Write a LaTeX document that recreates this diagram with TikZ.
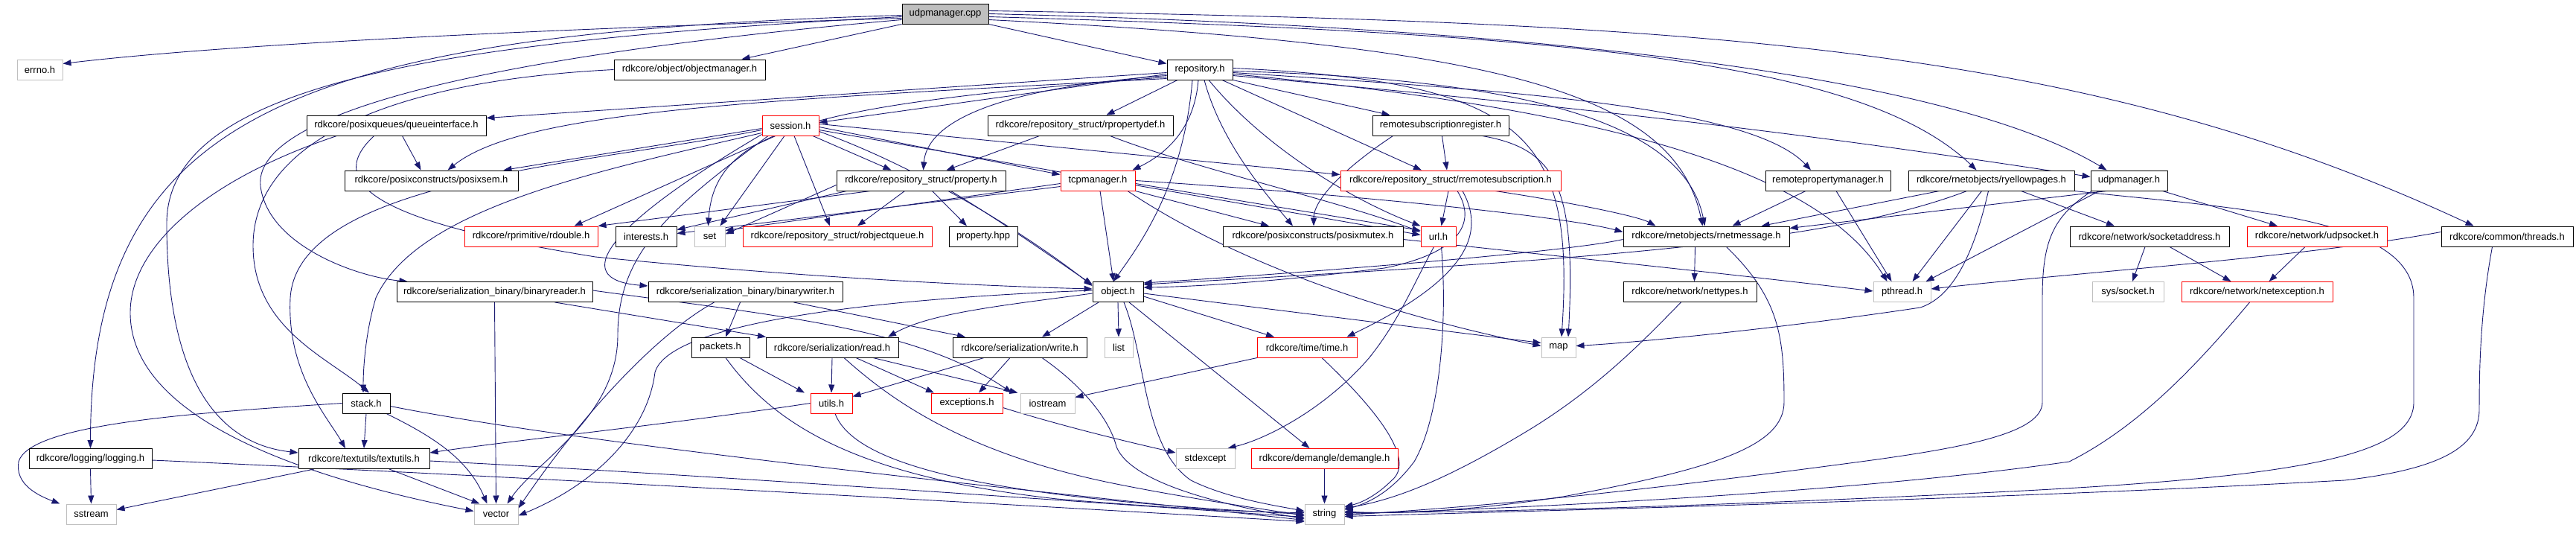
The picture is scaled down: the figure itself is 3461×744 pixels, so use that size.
\documentclass[tikz,border=0pt]{standalone}
\usepackage{fontspec}
\setmainfont{Liberation Sans}
\usetikzlibrary{arrows.meta}
\definecolor{edgec}{HTML}{191970}
\definecolor{grayb}{HTML}{BFBFBF}
\pgfdeclarelayer{bg}
\pgfsetlayers{bg,main}
\tikzset{
 nd/.style={draw=black, line width=1pt, fill=white, inner sep=0pt, minimum height=27pt, font=\fontsize{13}{15}\selectfont},
 rednd/.style={nd, draw=red},
 graynd/.style={nd, draw=grayb},
 rootnd/.style={nd, fill=grayb},
 edg/.style={draw=edgec, line width=0.9pt, -{Triangle[length=11pt,width=8pt]}},
}
\begin{document}
\begin{tikzpicture}[x=1pt,y=-1pt]
\useasboundingbox (0,0) rectangle (3461,744);
% row 1
\node[rootnd, minimum width=116pt] (udpcpp) at (1270,18.5) {udpmanager.cpp};
% row 2
\node[graynd, minimum width=61pt] (errno) at (53.5,93.5) {errno.h};
\node[nd, minimum width=203pt] (objmgr) at (926.5,93.5) {rdkcore/object/objectmanager.h};
\node[nd, minimum width=88pt] (repo) at (1612,93.5) {repository.h};
% row 3
\node[nd, minimum width=241pt] (queue) at (532.5,168.5) {rdkcore/posixqueues/queueinterface.h};
\node[rednd, minimum width=76pt] (session) at (1062,168.5) {session.h};
\node[nd, minimum width=249pt] (rpropdef) at (1451.5,168.5) {rdkcore/repository\_struct/rpropertydef.h};
\node[nd, minimum width=183pt] (rsubreg) at (1935.5,168.5) {remotesubscriptionregister.h};
% row 4
\node[nd, minimum width=233pt] (posixsem) at (579.5,242.5) {rdkcore/posixconstructs/posixsem.h};
\node[nd, minimum width=227pt] (property) at (1237.5,242.5) {rdkcore/repository\_struct/property.h};
\node[rednd, minimum width=100pt] (tcp) at (1475,242.5) {tcpmanager.h};
\node[rednd, minimum width=296pt] (rremsub) at (1949,242.5) {rdkcore/repository\_struct/rremotesubscription.h};
\node[nd, minimum width=168pt] (rpropmgr) at (2456,242.5) {remotepropertymanager.h};
\node[nd, minimum width=223pt] (yellow) at (2675.5,242.5) {rdkcore/rnetobjects/ryellowpages.h};
\node[nd, minimum width=103pt] (udph) at (2860.5,242.5) {udpmanager.h};
% row 5
\node[rednd, minimum width=179pt] (rdouble) at (713.5,317.5) {rdkcore/rprimitive/rdouble.h};
\node[nd, minimum width=82pt] (interests) at (868,317.5) {interests.h};
\node[graynd, minimum width=41pt] (set) at (953.5,317.5) {set};
\node[rednd, minimum width=254pt] (robjq) at (1125,317.5) {rdkcore/repository\_struct/robjectqueue.h};
\node[nd, minimum width=92pt] (prophpp) at (1321,317.5) {property.hpp};
\node[nd, minimum width=242pt] (posixmutex) at (1764,317.5) {rdkcore/posixconstructs/posixmutex.h};
\node[rednd, minimum width=47pt] (url) at (1932.5,317.5) {url.h};
\node[nd, minimum width=223pt] (rnetmsg) at (2292.5,317.5) {rdkcore/rnetobjects/rnetmessage.h};
\node[nd, minimum width=214pt] (sockaddr) at (2888,317.5) {rdkcore/network/socketaddress.h};
\node[rednd, minimum width=188pt] (udpsock) at (3113,317.5) {rdkcore/network/udpsocket.h};
\node[nd, minimum width=177pt] (threads) at (3368.5,317.5) {rdkcore/common/threads.h};
% row 6
\node[nd, minimum width=263pt] (binreader) at (664.5,392) {rdkcore/serialization\_binary/binaryreader.h};
\node[nd, minimum width=261pt] (binwriter) at (1001.5,392) {rdkcore/serialization\_binary/binarywriter.h};
\node[nd, minimum width=68pt] (objecth) at (1502,392) {object.h};
\node[nd, minimum width=179pt] (nettypes) at (2270.5,392) {rdkcore/network/nettypes.h};
\node[graynd, minimum width=77pt] (pthread) at (2555.5,392) {pthread.h};
\node[graynd, minimum width=96pt] (syssock) at (2859,392) {sys/socket.h};
\node[rednd, minimum width=203pt] (netexc) at (3032.5,392) {rdkcore/network/netexception.h};
% row 7
\node[nd, minimum width=78pt] (packets) at (968,466.5) {packets.h};
\node[nd, minimum width=178pt] (read) at (1118,466.5) {rdkcore/serialization/read.h};
\node[nd, minimum width=180pt] (write) at (1370,466.5) {rdkcore/serialization/write.h};
\node[graynd, minimum width=38pt] (list) at (1503,466.5) {list};
\node[rednd, minimum width=134pt] (time) at (1756,466.5) {rdkcore/time/time.h};
\node[graynd, minimum width=46pt] (map) at (2094,466.5) {map};
% row 8
\node[nd, minimum width=64pt] (stack) at (492,541.5) {stack.h};
\node[rednd, minimum width=56pt] (utils) at (1117,541.5) {utils.h};
\node[rednd, minimum width=96pt] (exceptions) at (1299,541.5) {exceptions.h};
\node[graynd, minimum width=73pt] (iostream) at (1407.5,541.5) {iostream};
% row 9
\node[nd, minimum width=165pt] (logging) at (121.5,616) {rdkcore/logging/logging.h};
\node[nd, minimum width=176pt] (textutils) at (489,616) {rdkcore/textutils/textutils.h};
\node[graynd, minimum width=79pt] (stdexcept) at (1619.5,616) {stdexcept};
\node[rednd, minimum width=197pt] (demangle) at (1779.5,616) {rdkcore/demangle/demangle.h};
% row 10
\node[graynd, minimum width=67pt] (sstream) at (122.5,690.5) {sstream};
\node[graynd, minimum width=59pt] (vector) at (666.5,690.5) {vector};
\node[graynd, minimum width=53pt] (string) at (1779.5,690.5) {string};

\begin{pgfonlayer}{bg}
% udpmanager.cpp
\draw[edg] ([yshift=-6pt]udpcpp.west) .. controls (700,40) and (300,60) .. ([yshift=8pt]errno.east);
\draw[edg] (udpcpp.south west) -- ([xshift=70pt]objmgr.north);
\draw[edg] (udpcpp.south east) -- ([yshift=8pt]repo.west);
\draw[edg] ([yshift=-2pt]udpcpp.west) .. controls (400,45) and (122,150) .. (logging.north);
\draw[edg] ([yshift=-4pt]udpcpp.west) .. controls (600,55) and (224,110) .. (224,300) .. controls (224,560) and (330,600) .. ([yshift=8pt]textutils.west);
\draw[edg] ([yshift=-8pt]udpcpp.west) .. controls (600,80) and (340,160) .. (350,250) .. controls (360,330) and (480,372) .. ([xshift=15pt]binreader.north west);
\draw[edg] ([yshift=4pt]udpcpp.east) .. controls (2300,30) and (2800,60) .. ([xshift=-45pt]threads.north);
\draw[edg] (udpcpp.east) .. controls (2200,40) and (2650,120) .. ([xshift=-30pt]udph.north);
\draw[edg] ([yshift=-4pt]udpcpp.east) .. controls (2100,45) and (2500,80) .. ([xshift=-20pt]yellow.north);
\draw[edg] ([yshift=-8pt]udpcpp.east) .. controls (2000,60) and (2250,120) .. ([xshift=-5pt]rnetmsg.north);
% repository.h
\draw[edg] ([yshift=-4pt]repo.west) -- ([yshift=10pt]queue.east);
\draw[edg] ([yshift=-6pt]repo.west) -- ([yshift=4pt]session.east);
\draw[edg] ([xshift=-30pt]repo.south) -- ([xshift=35pt]rpropdef.north);
\draw[edg] (repo.south east) -- ([xshift=-68pt]rsubreg.north);
\draw[edg] ([yshift=-8pt]repo.west) .. controls (1320,120) and (1245,170) .. ([xshift=3pt]property.north);
\draw[edg] ([xshift=-2pt]repo.south) .. controls (1605,170) and (1570,205) .. ([xshift=-4pt]tcp.north east);
\draw[edg] ([xshift=30pt]repo.south) -- ([xshift=-39pt]rremsub.north);
\draw[edg] ([xshift=6pt]repo.south) .. controls (1640,190) and (1700,260) .. ([xshift=-27pt]posixmutex.north);
\draw[edg] ([xshift=12pt]repo.south) .. controls (1700,200) and (1820,270) .. (url.north west);
\draw[edg] ([yshift=-4pt]repo.east) .. controls (2000,120) and (2350,140) .. ([xshift=-23pt]rpropmgr.north);
\draw[edg] ([yshift=-2pt]repo.east) .. controls (2000,105) and (2260,150) .. ([xshift=-2pt]rnetmsg.north);
\draw[edg] ([yshift=2pt]repo.east) .. controls (2050,110) and (2116,180) .. ([xshift=4pt]map.north);
\draw[edg] ([yshift=-6pt]repo.east) .. controls (2200,150) and (2450,240) .. ([xshift=-20pt]pthread.north);
\draw[edg] ([yshift=-8pt]repo.east) .. controls (2200,150) and (2500,190) .. ([yshift=5pt]udph.west);
\draw[edg] ([yshift=-10pt]repo.west) .. controls (1100,140) and (960,170) .. ([xshift=-2pt]set.north);
\draw[edg] ([yshift=-12pt]repo.west) .. controls (1000,135) and (700,150) .. ([xshift=22pt]posixsem.north);
\draw[edg] ([xshift=-10pt]repo.south) .. controls (1590,250) and (1530,330) .. ([xshift=-6pt]objecth.north);
% objectmanager.h
\draw[edg] (objmgr.west) .. controls (500,110) and (340,200) .. (340,330) .. controls (340,440) and (440,480) .. ([xshift=4pt]stack.north);
% queueinterface.h
\draw[edg] ([xshift=8pt]queue.south) -- ([xshift=-14pt]posixsem.north);
\draw[edg] ([xshift=-80pt]queue.south) .. controls (280,240) and (175,330) .. (175,420) .. controls (175,560) and (400,640) .. ([yshift=4pt]vector.west);
\draw[edg] ([xshift=-30pt]queue.south) .. controls (430,250) and (520,300) .. (800,345) .. controls (1100,375) and (1350,385) .. ([yshift=4pt]objecth.west);
% session.h
\draw[edg] ([yshift=-4pt]session.west) -- ([xshift=-20pt]posixsem.north east);
\draw[edg] ([xshift=30pt]session.south) -- ([xshift=-40pt]property.north);
\draw[edg] ([yshift=-2pt]session.east) -- ([yshift=8pt]tcp.west);
\draw[edg] ([yshift=2pt]session.east) -- ([yshift=8pt]rremsub.west);
\draw[edg] ([xshift=-20pt]session.south) -- ([xshift=58pt]rdouble.north);
\draw[edg] ([xshift=-8pt]session.south) -- ([xshift=14pt]set.north);
\draw[edg] ([xshift=5pt]session.south) -- ([xshift=-10pt]robjq.north);
\draw[edg] ([yshift=-6pt]session.east) -- ([yshift=2pt]url.west);
\draw[edg] ([yshift=-8pt]session.east) .. controls (1250,230) and (1400,330) .. ([yshift=8pt]objecth.west);
\draw[edg] ([yshift=-10pt]session.west) .. controls (800,230) and (560,280) .. (505,400) .. controls (490,450) and (488,500) .. ([xshift=-4pt]stack.north);
\draw[edg] ([yshift=-6pt]session.west) .. controls (800,220) and (400,240) .. (390,400) .. controls (385,500) and (440,560) .. ([xshift=-25pt]textutils.north);
\draw[edg] ([yshift=-12pt]session.west) .. controls (820,300) and (760,375) .. ([yshift=8pt]binwriter.west);
\draw[edg] ([xshift=-30pt]session.south) .. controls (900,280) and (830,340) .. (830,450) .. controls (830,560) and (720,620) .. ([xshift=-15pt]vector.north east);
% rpropertydef.h
\draw[edg] ([xshift=-55pt]rpropdef.south) -- ([xshift=34pt]property.north);
\draw[edg] ([xshift=40pt]rpropdef.south) .. controls (1600,225) and (1800,270) .. ([yshift=6pt]url.west);
% remotesubscriptionregister.h
\draw[edg] ([xshift=2pt]rsubreg.south) -- ([xshift=-5pt]rremsub.north);
\draw[edg] ([xshift=-64pt]rsubreg.south) .. controls (1800,230) and (1765,270) .. ([xshift=1pt]posixmutex.north);
\draw[edg] ([xshift=56pt]rsubreg.south) .. controls (2090,200) and (2118,250) .. ([xshift=13pt]map.north);
% property.h
\draw[edg] ([xshift=-22pt]property.south) -- ([xshift=27pt]robjq.north);
\draw[edg] ([xshift=15pt]property.south) -- ([xshift=-22pt]prophpp.north);
\draw[edg] ([xshift=-68pt]property.south) -- (rdouble.north east);
\draw[edg] ([xshift=-100pt]property.south) -- ([yshift=9pt]interests.east);
\draw[edg] ([yshift=-6pt]property.west) -- ([yshift=3pt]set.east);
\draw[edg] ([xshift=40pt]property.south) .. controls (1350,300) and (1420,350) .. ([yshift=10pt]objecth.west);
% tcpmanager.h
\draw[edg] ([xshift=3pt]tcp.south) -- ([xshift=-6pt]objecth.north);
\draw[edg] (tcp.south east) -- ([xshift=-59pt]posixmutex.north);
\draw[edg] ([yshift=-4pt]tcp.east) -- ([yshift=8pt]url.west);
\draw[edg] ([yshift=-4pt]tcp.west) -- ([yshift=8pt]set.east);
\draw[edg] ([yshift=-8pt]tcp.west) -- ([yshift=4pt]interests.east);
\draw[edg] (tcp.east) .. controls (1800,260) and (2100,290) .. ([yshift=6pt]rnetmsg.west);
\draw[edg] ([xshift=40pt]tcp.south) .. controls (1700,380) and (1950,440) .. ([yshift=2pt]map.west);
% rremotesubscription.h
\draw[edg] ([xshift=-3pt]rremsub.south) -- ([xshift=4pt]url.north);
\draw[edg] ([xshift=9pt]rremsub.south) .. controls (1985,300) and (1960,340) .. (1860,360) .. controls (1700,380) and (1600,385) .. ([yshift=6pt]objecth.east);
\draw[edg] ([xshift=16pt]rremsub.south) .. controls (2000,320) and (1960,380) .. ([xshift=-14pt]time.north east);
\draw[edg] ([xshift=60pt]rremsub.south) .. controls (2100,270) and (2200,290) .. ([xshift=-68pt]rnetmsg.north);
% remotepropertymanager.h
\draw[edg] ([xshift=-30pt]rpropmgr.south) -- ([xshift=35pt]rnetmsg.north);
\draw[edg] ([xshift=11pt]rpropmgr.south) -- ([xshift=-14pt]pthread.north);
% ryellowpages.h
\draw[edg] ([xshift=-70pt]yellow.south) -- ([xshift=74pt]rnetmsg.north);
\draw[edg] ([xshift=-33pt]yellow.south) .. controls (2450,330) and (2100,350) .. ([yshift=10pt]objecth.east);
\draw[edg] ([xshift=-13pt]yellow.south) -- ([xshift=14pt]pthread.north);
\draw[edg] ([xshift=-4pt]yellow.south) .. controls (2650,350) and (2620,400) .. (2580,413) .. controls (2400,440) and (2200,460) .. ([yshift=2pt]map.east);
\draw[edg] ([xshift=40pt]yellow.south) -- ([xshift=-47pt]sockaddr.north);
\draw[edg] (yellow.south east) .. controls (3000,280) and (3243,290) .. (3243,400) -- (3243,540) .. controls (3243,610) and (3100,640) .. (2700,660) .. controls (2300,680) and (2000,688) .. ([yshift=2pt]string.east);
% udpmanager.h
\draw[edg] ([xshift=-30pt]udph.south) -- ([yshift=-3pt]rnetmsg.north east);
\draw[edg] ([xshift=-40pt]udph.south) -- ([xshift=32pt]pthread.north);
\draw[edg] ([xshift=45pt]udph.south) -- ([xshift=-53pt]udpsock.north);
\draw[edg] ([xshift=-50pt]udph.south) .. controls (2760,290) and (2744,320) .. (2744,400) -- (2744,540) .. controls (2744,580) and (2650,600) .. (2500,620) .. controls (2200,660) and (2000,680) .. ([yshift=-1pt]string.east);
% socket / network
\draw[edg] ([xshift=-6pt]sockaddr.south) -- ([xshift=6pt]syssock.north);
\draw[edg] ([xshift=27pt]sockaddr.south) -- ([xshift=-35pt]netexc.north);
\draw[edg] ([xshift=-16pt]udpsock.south) -- ([xshift=16pt]netexc.north);
\draw[edg] ([yshift=6pt]threads.west) .. controls (3100,345) and (2800,365) .. ([yshift=4pt]pthread.east);
\draw[edg] ([xshift=-20pt]threads.south) .. controls (3332,420) and (3331,500) .. (3331,550) .. controls (3331,600) and (3280,630) .. (3150,645) .. controls (2700,670) and (2100,685) .. ([yshift=-3pt]string.east);
\draw[edg] ([xshift=-10pt]netexc.south) .. controls (2960,480) and (2880,570) .. (2780,620) .. controls (2500,660) and (2100,680) .. (string.east);
\draw[edg] ([yshift=-4pt]posixmutex.east) .. controls (2100,345) and (2300,365) .. ([yshift=1pt]pthread.west);
% url.h
\draw[edg] ([xshift=-6pt]url.south) .. controls (1900,380) and (1880,430) .. (1840,480) .. controls (1780,550) and (1700,590) .. ([xshift=-10pt]stdexcept.north east);
\draw[edg] ([xshift=4pt]url.south) .. controls (1945,430) and (1935,560) .. (1900,620) .. controls (1870,660) and (1840,675) .. ([yshift=6pt]string.east);
% rnetmessage.h
\draw[edg] ([xshift=-15pt]rnetmsg.south) -- ([xshift=6pt]nettypes.north);
\draw[edg] ([yshift=-4pt]rnetmsg.west) .. controls (2100,340) and (1700,370) .. ([yshift=12pt]objecth.east);
\draw[edg] ([xshift=27pt]rnetmsg.south) .. controls (2390,400) and (2397,450) .. (2397,540) .. controls (2397,600) and (2300,630) .. (2100,667) .. controls (1950,690) and (1850,690) .. ([yshift=4pt]string.east);
\draw[edg] ([xshift=-12pt]nettypes.south) .. controls (2215,450) and (2150,520) .. (2050,580) .. controls (1950,640) and (1880,670) .. ([yshift=8pt]string.east);
% object.h
\draw[edg] (objecth.south) -- (list.north);
\draw[edg] ([yshift=-6pt]objecth.east) -- ([xshift=-44pt]time.north);
\draw[edg] ([xshift=15pt]objecth.south) -- ([xshift=-20pt]demangle.north);
\draw[edg] ([yshift=-2pt]objecth.east) -- ([yshift=6pt]map.west);
\draw[edg] ([xshift=8pt]objecth.south) .. controls (1540,480) and (1535,600) .. (1600,645) .. controls (1650,670) and (1720,680) .. ([yshift=4pt]string.west);
\draw[edg] ([xshift=-26pt]objecth.south) -- ([xshift=30pt]write.north);
\draw[edg] ([yshift=-2pt]objecth.west) .. controls (1350,410) and (1250,420) .. ([xshift=75pt]read.north);
\draw[edg] ([yshift=2pt]objecth.west) .. controls (1200,400) and (900,430) .. (880,500) .. controls (870,580) and (800,650) .. ([yshift=-2pt]vector.east);
% binaryreader / binarywriter
\draw[edg] ([xshift=81pt]binreader.south) -- ([xshift=-89pt]read.north);
\draw[edg] (binreader.south) -- (vector.north);
\draw[edg] ([yshift=2pt]binreader.east) .. controls (1050,425) and (1230,440) .. ([xshift=-48pt]iostream.north);
\draw[edg] ([xshift=-7pt]binwriter.south) -- ([xshift=7pt]packets.north);
\draw[edg] ([xshift=65pt]binwriter.south) -- ([xshift=-73pt]write.north);
\draw[edg] ([xshift=-42pt]binwriter.south) .. controls (880,450) and (780,560) .. ([yshift=8pt]vector.east);
% serialization
\draw[edg] ([xshift=26pt]packets.south) -- ([xshift=-36pt]utils.north);
\draw[edg] ([xshift=7pt]packets.south) .. controls (1040,570) and (1150,640) .. (1420,670) .. controls (1600,685) and (1700,688) .. ([yshift=2pt]string.west);
\draw[edg] (read.south) -- (utils.north);
\draw[edg] ([xshift=32pt]read.south) -- ([xshift=-44pt]exceptions.north);
\draw[edg] ([xshift=55pt]read.south) -- ([xshift=-40pt]iostream.north);
\draw[edg] ([xshift=16pt]read.south) .. controls (1200,540) and (1300,610) .. (1500,650) .. controls (1600,670) and (1700,684) .. ([yshift=-2pt]string.west);
\draw[edg] ([xshift=-48pt]write.south) -- ([yshift=9pt]utils.east);
\draw[edg] ([xshift=-13pt]write.south) -- ([xshift=16pt]exceptions.north);
\draw[edg] ([xshift=30pt]write.south) .. controls (1450,515) and (1490,560) .. (1500,600) .. controls (1520,650) and (1650,680) .. ([yshift=-6pt]string.west);
\draw[edg] (utils.west) .. controls (900,570) and (700,590) .. ([yshift=8pt]textutils.east);
\draw[edg] ([xshift=5pt]utils.south) .. controls (1150,630) and (1350,670) .. (string.west);
\draw[edg] ([yshift=-6pt]exceptions.east) .. controls (1420,570) and (1500,590) .. ([yshift=8pt]stdexcept.west);
\draw[edg] ([xshift=-67pt]time.south) -- ([yshift=8pt]iostream.east);
\draw[edg] ([xshift=20pt]time.south) .. controls (1860,560) and (1900,620) .. (1870,645) .. controls (1850,665) and (1830,675) .. ([yshift=10pt]string.east);
\draw[edg] (demangle.south) -- (string.north);
% stack / textutils / logging
\draw[edg] (stack.south) -- (textutils.north);
\draw[edg] (stack.west) .. controls (250,555) and (40,570) .. (25,620) .. controls (20,650) and (50,665) .. ([xshift=-8pt]sstream.north west);
\draw[edg] ([xshift=27pt]stack.south) .. controls (590,590) and (630,620) .. ([xshift=-12pt]vector.north);
\draw[edg] ([yshift=-4pt]stack.east) .. controls (800,600) and (1400,660) .. ([yshift=-8pt]string.west);
\draw[edg] ([xshift=-67pt]textutils.south) -- ([yshift=6pt]sstream.east);
\draw[edg] ([xshift=34pt]textutils.south) -- ([xshift=-22pt]vector.north);
\draw[edg] ([yshift=-3pt]textutils.east) .. controls (900,635) and (1400,670) .. ([yshift=-4pt]string.west);
\draw[edg] (logging.south) -- (sstream.north);
\draw[edg] ([yshift=-2pt]logging.east) .. controls (700,640) and (1400,680) .. ([yshift=-10pt]string.west);
\end{pgfonlayer}
\end{tikzpicture}
\end{document}
